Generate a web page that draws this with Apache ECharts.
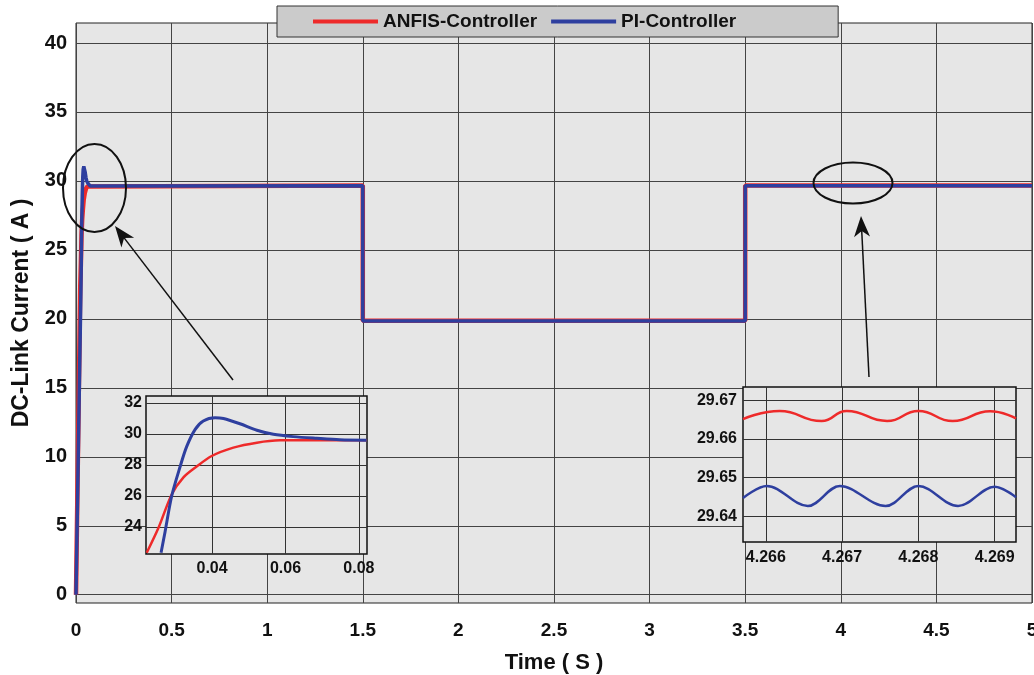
<!DOCTYPE html>
<html>
<head>
<meta charset="utf-8">
<script src="https://cdn.jsdelivr.net/npm/echarts@6/dist/echarts.min.js"></script>
<style>
html, body { margin: 0; padding: 0; background: #fff; }
#main { width: 1034px; height: 675px; }
</style>
</head>
<body>
<div id="main"></div>
<script>
// tick labels
const currentTicks = [0, 5, 10, 15, 20, 25, 30, 35, 40]
const zoom1TimeTicks = [0.04, 0.06, 0.08]
const zoom1CurrentTicks = [24, 26, 28, 30, 32]
const zoom2TimeTicks = [4.266, 4.267, 4.268, 4.269]
const zoom2CurrentTicks = [29.64, 29.65, 29.66, 29.67]

// start-up transient (left zoom box)
const anfisStartT = [0.0222, 0.0254, 0.029, 0.0322, 0.0358, 0.0399, 0.0458, 0.0522, 0.0585, 0.066, 0.0821]
const anfisStartI = [22.34, 23.95, 26.1, 27.2, 27.9, 28.58, 29.12, 29.44, 29.59, 29.6, 29.6]
const piStartT = [0.0261, 0.0272, 0.029, 0.0313, 0.0331, 0.0354, 0.0376, 0.0408, 0.0431, 0.0476, 0.0522, 0.0567, 0.0621, 0.0685, 0.0748, 0.0821]
const piStartI = [22.34, 23.7, 26.0, 27.9, 29.2, 30.3, 30.84, 31.05, 31.0, 30.66, 30.24, 29.98, 29.83, 29.72, 29.63, 29.6]

// step changes of the load
const stepTimes = [1.5, 3.5, 5]
const anfisLevels = [29.66, 19.86, 29.66]
const piLevels = [29.645, 19.84, 29.645]

// steady-state ripple (right zoom box)
const anfisRippleT = [4.2657, 4.26618, 4.26673, 4.26706, 4.26759, 4.2680, 4.26845, 4.26894, 4.26928]
const anfisRippleI = [29.6651, 29.6672, 29.6646, 29.6672, 29.6646, 29.6672, 29.6646, 29.6671, 29.6653]
const piRippleT = [4.2657, 4.26601, 4.26655, 4.26697, 4.26757, 4.2680, 4.26852, 4.26900, 4.26928]
const piRippleI = [29.6447, 29.6478, 29.6426, 29.6478, 29.6426, 29.6478, 29.6426, 29.6476, 29.6449]

const RED = '#ee2a2a'
const BLUE = '#2e3f9f'
const FONT = "'Liberation Sans', Arial, sans-serif"

function pairs (t, v) {
  return t.map((x, i) => [x, v[i]])
}

function stepped (startT, startI, levels) {
  const pts = [[0, 0]].concat(pairs(startT, startI))
  let t0 = startT[startT.length - 1]
  levels.forEach((lv, i) => {
    pts.push([t0, lv])
    pts.push([stepTimes[i], lv])
    t0 = stepTimes[i]
  })
  return pts
}

function arrow (tail, tip) {
  const dx = tip[0] - tail[0]
  const dy = tip[1] - tail[1]
  const len = Math.sqrt(dx * dx + dy * dy)
  const ux = dx / len
  const uy = dy / len
  const hl = 21
  const hw = 8
  const bx = tip[0] - ux * hl
  const by = tip[1] - uy * hl
  const nx = tip[0] - ux * (hl - 6)
  const ny = tip[1] - uy * (hl - 6)
  return [
    {
      type: 'line',
      z: 20,
      shape: { x1: tail[0], y1: tail[1], x2: nx, y2: ny },
      style: { stroke: '#111', lineWidth: 1.5 }
    },
    {
      type: 'polygon',
      z: 20,
      shape: { points: [tip, [bx - uy * hw, by + ux * hw], [nx, ny], [bx + uy * hw, by - ux * hw]] },
      style: { fill: '#111' }
    }
  ]
}

function insetAxisX (idx, min, max, ticks, digits, margin) {
  return {
    type: 'value', gridIndex: idx, min: min, max: max, z: 4,
    axisLine: { show: false },
    axisTick: { show: false, customValues: ticks },
    axisLabel: {
      customValues: ticks, margin: margin, color: '#111', fontSize: 16, fontWeight: 'bold', fontFamily: FONT,
      formatter: v => v.toFixed(digits)
    },
    splitLine: { show: true, lineStyle: { color: '#333', width: 1 } }
  }
}

function insetAxisY (idx, min, max, ticks, digits, margin) {
  return {
    type: 'value', gridIndex: idx, min: min, max: max, z: 4,
    axisLine: { show: false },
    axisTick: { show: false, customValues: ticks },
    axisLabel: {
      customValues: ticks, margin: margin, color: '#111', fontSize: 16, fontWeight: 'bold', fontFamily: FONT,
      formatter: v => v.toFixed(digits)
    },
    splitLine: { show: true, lineStyle: { color: '#333', width: 1 } }
  }
}

const myChart = echarts.init(document.getElementById('main'))
const option = {
  backgroundColor: '#fff',
  animation: false,
  legend: {
    left: 277,
    top: 6,
    padding: [6, 102, 6, 36],
    backgroundColor: '#cbcbcb',
    borderColor: '#333',
    borderWidth: 1,
    itemWidth: 65,
    itemHeight: 4,
    itemGap: 14,
    icon: 'rect',
    textStyle: { fontSize: 19, fontWeight: 'bold', color: '#111', fontFamily: FONT, lineHeight: 19 },
    data: ['ANFIS-Controller', 'PI-Controller']
  },
  grid: [
    { left: 76, right: 2, top: 23, bottom: 72, outerBoundsMode: 'none', show: true, backgroundColor: '#e6e6e6', borderColor: '#222', borderWidth: 1 },
    { left: 146, top: 396, width: 221, height: 158, outerBoundsMode: 'none', show: true, backgroundColor: '#e6e6e6', borderColor: '#111', borderWidth: 1.5, z: 3 },
    { left: 743, top: 387, width: 273, height: 155, outerBoundsMode: 'none', show: true, backgroundColor: '#e6e6e6', borderColor: '#111', borderWidth: 1.5, z: 3 }
  ],
  xAxis: [
    {
      type: 'value', gridIndex: 0, min: 0, max: 5, interval: 0.5,
      name: 'Time ( S )', nameLocation: 'middle', nameGap: 49,
      nameTextStyle: { fontSize: 22, fontWeight: 'bold', color: '#111', fontFamily: FONT },
      axisLine: { show: false },
      axisTick: { show: false },
      axisLabel: { margin: 18, color: '#111', fontSize: 19, fontWeight: 'bold', fontFamily: FONT },
      splitLine: { show: true, lineStyle: { color: '#444', width: 1 } }
    },
    insetAxisX(1, 0.022, 0.0822, zoom1TimeTicks, 2, 7),
    insetAxisX(2, 4.2657, 4.26928, zoom2TimeTicks, 3, 8)
  ],
  yAxis: [
    {
      type: 'value', gridIndex: 0, min: -0.6, max: 41.45,
      name: 'DC-Link Current ( A )', nameLocation: 'middle', nameGap: 43,
      nameTextStyle: { fontSize: 23, fontWeight: 'bold', color: '#111', fontFamily: FONT },
      axisLine: { show: false },
      axisTick: { show: false, customValues: currentTicks },
      axisLabel: { customValues: currentTicks, margin: 9, color: '#111', fontSize: 20, fontWeight: 'bold', fontFamily: FONT },
      splitLine: { show: true, lineStyle: { color: '#444', width: 1 } }
    },
    insetAxisY(1, 22.26, 32.45, zoom1CurrentTicks, 0, 4),
    insetAxisY(2, 29.6333, 29.6734, zoom2CurrentTicks, 2, 6)
  ],
  series: [
    {
      name: 'ANFIS-Controller', type: 'line', xAxisIndex: 0, yAxisIndex: 0, z: 2,
      showSymbol: false, data: stepped(anfisStartT, anfisStartI, anfisLevels),
      lineStyle: { color: RED, width: 4.5 }, itemStyle: { color: RED }
    },
    {
      name: 'PI-Controller', type: 'line', xAxisIndex: 0, yAxisIndex: 0, z: 2,
      showSymbol: false, data: stepped(piStartT, piStartI, piLevels),
      lineStyle: { color: BLUE, width: 3.5 }, itemStyle: { color: BLUE }
    },
    {
      name: 'ANFIS-Controller', type: 'line', xAxisIndex: 1, yAxisIndex: 1, z: 5,
      showSymbol: false, smooth: 0.3, data: pairs(anfisStartT, anfisStartI),
      lineStyle: { color: RED, width: 2.5 }, itemStyle: { color: RED }
    },
    {
      name: 'PI-Controller', type: 'line', xAxisIndex: 1, yAxisIndex: 1, z: 5,
      showSymbol: false, smooth: 0.3, data: pairs(piStartT, piStartI),
      lineStyle: { color: BLUE, width: 3 }, itemStyle: { color: BLUE }
    },
    {
      name: 'ANFIS-Controller', type: 'line', xAxisIndex: 2, yAxisIndex: 2, z: 5,
      showSymbol: false, smooth: 0.5, data: pairs(anfisRippleT, anfisRippleI),
      lineStyle: { color: RED, width: 2.5 }, itemStyle: { color: RED }
    },
    {
      name: 'PI-Controller', type: 'line', xAxisIndex: 2, yAxisIndex: 2, z: 5,
      showSymbol: false, smooth: 0.35, data: pairs(piRippleT, piRippleI),
      lineStyle: { color: BLUE, width: 2.5 }, itemStyle: { color: BLUE }
    }
  ],
  graphic: [
    { type: 'ellipse', z: 20, shape: { cx: 94.5, cy: 188, rx: 31.5, ry: 44 }, style: { fill: 'none', stroke: '#111', lineWidth: 2 } },
    { type: 'ellipse', z: 20, shape: { cx: 853, cy: 183, rx: 39.5, ry: 20.5 }, style: { fill: 'none', stroke: '#111', lineWidth: 2 } }
  ].concat(arrow([233, 380], [115, 226]), arrow([869, 377], [861, 216]))
}
myChart.setOption(option)
</script>
</body>
</html>
